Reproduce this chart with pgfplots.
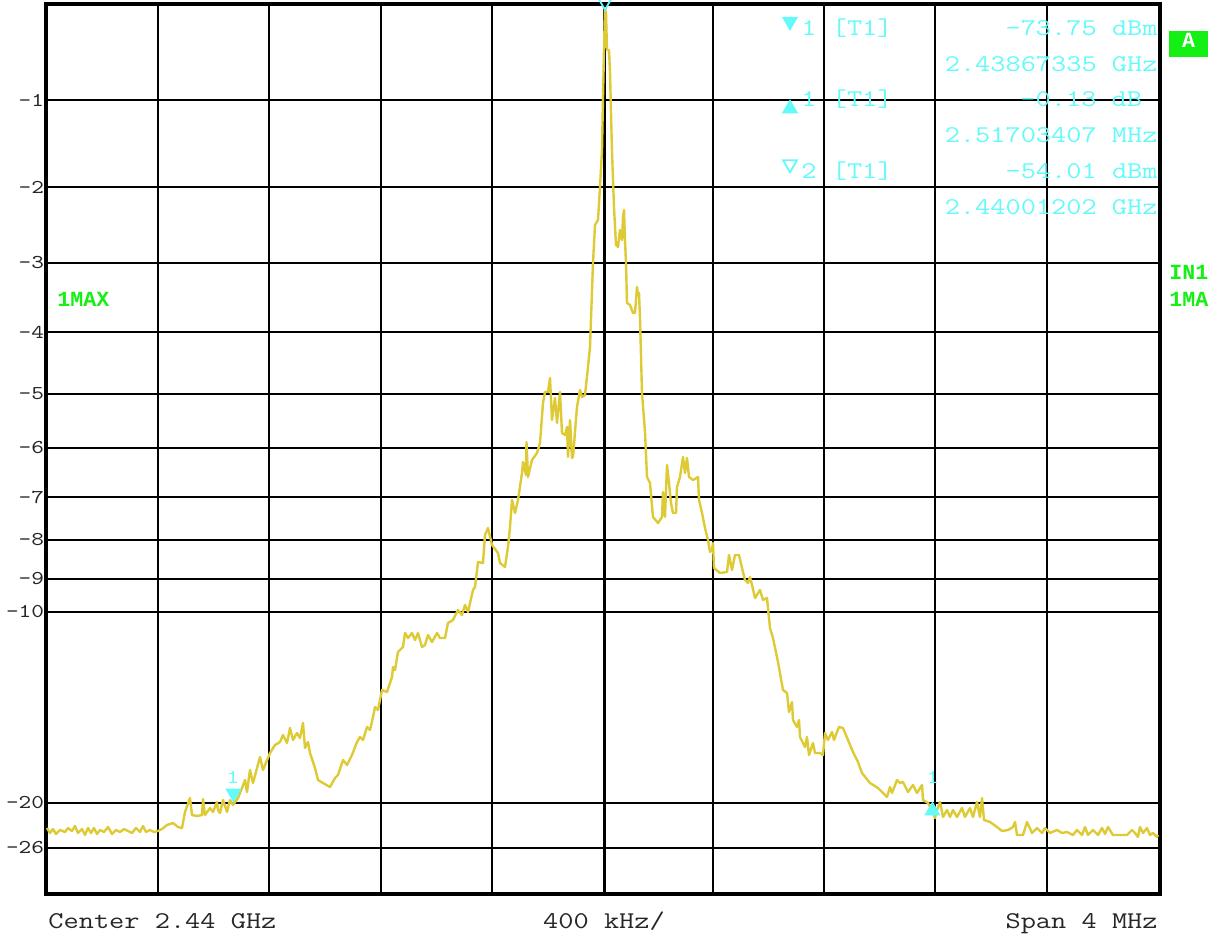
\documentclass[border=0pt]{standalone}
\usepackage{fontspec}
\usepackage{pgfplots}
\pgfplotsset{compat=1.18}
\newfontfamily\monof{Liberation Mono}
\newfontfamily\lmtt{Latin Modern Mono}[FakeStretch=1.23]
\definecolor{trace}{RGB}{222,202,52}
\definecolor{mcyan}{RGB}{100,250,250}
\definecolor{mgreen}{RGB}{20,240,20}
\newcommand{\infofont}{\lmtt\fontsize{12pt}{14pt}\selectfont}
\newcommand{\tickfont}{\lmtt\fontsize{9.8pt}{12pt}\selectfont}
\newcommand{\greenfont}{\monof\bfseries\fontsize{10.8pt}{12pt}\selectfont}
\begin{document}
\begin{tikzpicture}
\begin{axis}[
  scale only axis, width=557pt, height=445pt,
  xmin=46, xmax=1160, ymin=4, ymax=894, y dir=reverse,
  clip=false,
  axis line style={line width=1.6pt, black},
  xtick={158,269.3,380.7,491.7,712.7,823.7,935,1046.7},
  xticklabels={},
  extra x ticks={604.3}, extra x tick labels={},
  extra x tick style={grid=major, major grid style={line width=1.5pt, black}},
  ytick={100,187,263,332,394,448,497,540,579,612,803,848},
  yticklabels={-1,-2,-3,-4,-5,-6,-7,-8,-9,-10,-20,-26},
  major tick length=0pt,
  grid=major, major grid style={black, line width=0.8pt},
  y tick label style={font=\tickfont, text=black!85, inner sep=0pt, xshift=-0.8pt},
]
\addplot[trace, line width=1.2pt, line join=round] coordinates {
(47,828)(50,833)(53,829)(56,834)(60,830)(65,832)(68,828)(72,831)(75,826)(78,833)(82,829)(85,835)(88,828)(91,833)(94,828)(97,834)(100,830)(104,832)(108,827)(112,834)(116,830)(120,832)(124,829)(128,831)(132,833)(136,828)(140,832)(143,826)(146,832)(150,830)(154,832)(158,831)
(162,829)(167,825)(173,823)(178,827)(182,828)(185,812)(190,798)(192,815)(197,816)(202,815)(203,799)(205,815)(210,808)(213,812)(217,802)(218,810)(220,813)(223,800)(227,812)(230,800)(233,805)(238,798)(242,788)(245,780)(247,792)(250,770)(253,783)(260,757)(263,770)(270,753)(275,745)(280,742)(283,735)(287,743)(290,728)(293,740)(297,733)(300,738)(303,723)(305,748)(308,742)(310,753)(315,768)(318,780)(323,783)(330,787)(335,778)(338,775)(343,760)(347,765)(352,755)(357,742)(360,737)(363,740)(367,727)(370,730)(373,717)(375,707)(378,710)(382,690)(387,692)(392,677)(393,667)(395,670)(398,652)(403,647)(405,633)(408,638)(412,633)(415,640)(418,633)(422,647)(425,645)(428,635)(432,642)(437,633)(440,638)(445,638)(448,623)(453,620)(458,610)(462,615)(465,605)(468,612)(473,590)(475,587)(478,562)(483,563)(485,535)(488,528)(492,545)(498,553)(500,563)(505,567)(508,547)(510,527)(512,500)(515,513)(518,500)(522,473)(523,462)(526,475)(526.5,442)(528,477)(532,460)(537,453)(540,443)(543,403)(545,392)(548,392)(550,378)(552,420)(555,398)(557,423)(560,392)(562,433)(565,435)(567,427)(568,457)(570,420)(572,458)(573,457)(577,407)(580,390)(582,397)(585,395)(588,367)(590,347)(593,263)(595,225)(598,220)(600,187)(602,150)(603,97)(604,50)(605,8)(606,13)(607,50)(609,50)(610,72)(612,152)(614,207)(616,245)(618,247)(620,230)(622,240)(623,217)(624,210)(625,240)(626,263)(627,303)(630,305)(633,313)(635,313)(637,287)(638,295)(639,293)(640,318)(642,393)(645,432)(647,477)(650,483)(653,517)(658,523)(662,517)(663,492)(665,517)(667,465)(669,483)(671,503)(673,513)(676,513)(677,487)(680,477)(683,457)(685,473)(687,458)(689,477)(693,480)(698,477)(699,500)(702,513)(705,528)(708,540)(710,552)(712,550)(713,543)(714,568)(720,573)(727,572)(729,555)(732,570)(735,555)(739,555)(742,568)(745,580)(748,583)(750,577)(752,585)(755,598)(760,590)(763,600)(767,598)(770,628)(773,638)(778,662)(783,690)(787,693)(789,712)(792,702)(793,720)(797,727)(799,720)(800,737)(805,747)(807,737)(809,755)(813,743)(815,753)(820,753)(823,755)(825,733)(828,740)(832,732)(834,740)(837,732)(839,727)(843,728)(848,740)(853,752)(858,762)(862,773)(870,783)(878,788)(887,797)(890,787)(892,793)(897,780)(900,783)(903,782)(908,792)(913,785)(917,793)(922,785)(923,800)(928,803)(933,813)(935,818)(937,810)(940,802)(943,817)(947,810)(950,817)(953,810)(957,817)(962,808)(965,817)(970,808)(973,817)(977,802)(980,817)(982,798)(984,820)(990,822)(997,827)(1002,831)(1008,830)(1013,827)(1015,822)(1017,835)(1023,835)(1027,822)(1032,833)(1037,828)(1042,833)(1045,828)(1050,833)(1057,830)(1062,833)(1067,832)(1073,835)(1077,830)(1082,835)(1085,827)(1088,835)(1093,830)(1098,835)(1102,828)(1105,834)(1108,827)(1113,835)(1120,835)(1127,835)(1132,830)(1135,833)(1138,837)(1140,827)(1143,833)(1147,828)(1150,835)(1153,833)(1157,837)(1158,835)
};
% markers
\addplot[only marks, mark=triangle*, mark size=4.3pt, mark options={rotate=180, fill=mcyan, draw=mcyan}] coordinates {(790,21.5)(233.5,793.3)};
\addplot[only marks, mark=triangle*, mark size=4.3pt, mark options={fill=mcyan, draw=mcyan}] coordinates {(790,108.7)(932.5,810.7)};
\addplot[only marks, mark=triangle, mark size=4pt, mark options={rotate=180, draw=mcyan, fill=white, line width=0.9pt}] coordinates {(790,164.3)(605,1.8)};
% marker info text
\begin{scope}[every node/.style={inner sep=0pt, text=mcyan, font=\infofont}]
\node[anchor=base west] at (axis cs:801,36) {1 [T1]};
\node[anchor=base east] at (axis cs:1158,36) {-73.75 dBm};
\node[anchor=base east] at (axis cs:1158,72) {2.43867335 GHz};
\node[anchor=base west] at (axis cs:801,107) {1 [T1]};
\node[anchor=base east] at (axis cs:1142.5,107) {-0.13 dB};
\node[anchor=base east] at (axis cs:1158,143) {2.51703407 MHz};
\node[anchor=base west] at (axis cs:801,179) {2 [T1]};
\node[anchor=base east] at (axis cs:1158,179) {-54.01 dBm};
\node[anchor=base east] at (axis cs:1158,215) {2.44001202 GHz};
\end{scope}
\node[anchor=base, inner sep=0pt, text=mcyan, font=\tickfont] at (axis cs:233,783) {1};
\node[anchor=base, inner sep=0pt, text=mcyan, font=\tickfont] at (axis cs:933,783) {1};
% green annotations
\node[anchor=base west, inner sep=0pt, text=mgreen, font=\greenfont] at (axis cs:57,307) {1MAX};
\node[anchor=base west, inner sep=0pt, text=mgreen, font=\greenfont] at (axis cs:1169,280) {IN1};
\node[anchor=base west, inner sep=0pt, text=mgreen, font=\greenfont] at (axis cs:1169,307) {1MA};
\fill[mgreen] (axis cs:1169,31) rectangle (axis cs:1208,57);
\node[anchor=base, inner sep=0pt, text=white, font=\greenfont] at (axis cs:1188.5,48) {A};
% bottom labels
\begin{scope}[every node/.style={inner sep=0pt, text=black!85, font=\infofont}]
\node[anchor=base west] at (axis cs:48,928) {Center 2.44 GHz};
\node[anchor=base] at (axis cs:604,928) {400 kHz/};
\node[anchor=base east] at (axis cs:1158,928) {Span 4 MHz};
\end{scope}
\coordinate (BL) at (axis cs:0,935);
\coordinate (TR) at (axis cs:1216,0);
\end{axis}
\pgfresetboundingbox
\useasboundingbox (BL) rectangle (TR);
\end{tikzpicture}
\end{document}
